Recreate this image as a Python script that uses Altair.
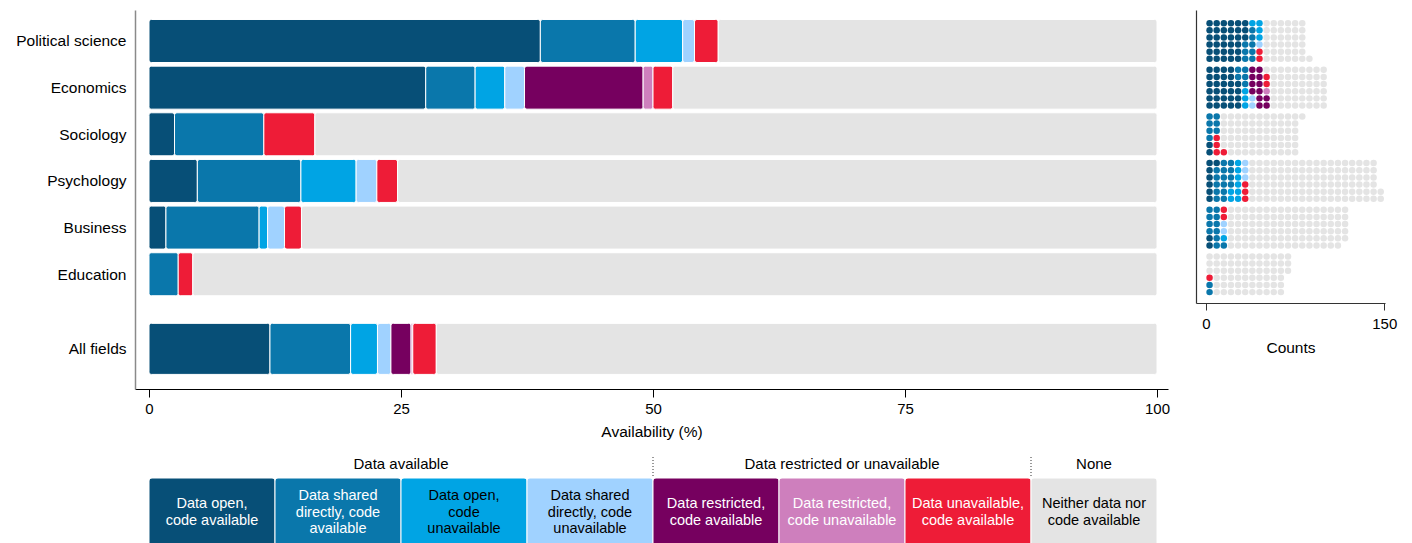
import altair as alt
import pandas as pd

# ---------------- data ----------------
fields = ["Political science", "Economics", "Sociology", "Psychology", "Business", "Education"]
all_fields_label = "All fields"

categories = [
    "Data open, code available",
    "Data shared directly, code available",
    "Data open, code unavailable",
    "Data shared directly, code unavailable",
    "Data restricted, code available",
    "Data restricted, code unavailable",
    "Data unavailable, code available",
    "Neither data nor code available",
]
colors = ["#074F77", "#0A77AB", "#00A4E4", "#A0D2FF", "#76005F", "#CE7FBD", "#EE1C37", "#E4E4E4"]

# counts per field, in category order
political_science = [33, 8, 4, 1, 0, 0, 2, 37]
economics = [28, 5, 3, 2, 12, 1, 2, 49]
sociology = [2, 7, 0, 0, 0, 0, 4, 66]
psychology = [7, 15, 8, 3, 0, 0, 3, 110]
business = [2, 11, 1, 2, 0, 0, 2, 101]
education = [0, 2, 0, 0, 0, 0, 1, 66]
field_counts = [political_science, economics, sociology, psychology, business, education]

legend_labels = [
    "Data open,\ncode available",
    "Data shared\ndirectly, code\navailable",
    "Data open,\ncode\nunavailable",
    "Data shared\ndirectly, code\nunavailable",
    "Data restricted,\ncode available",
    "Data restricted,\ncode unavailable",
    "Data unavailable,\ncode available",
    "Neither data nor\ncode available",
]
legend_dark_text = [False, False, True, True, False, False, False, True]
group_names = ["Data available", "Data restricted or unavailable", "None"]
group_first = [0, 4, 7]
group_last = [4, 7, 8]

# ---------------- tables ----------------
rows = []
for fi, (f, cnts) in enumerate(zip(fields, field_counts)):
    for ci, (c, n) in enumerate(zip(categories, cnts)):
        rows.append(dict(field=f, fi=fi, category=c, ci=ci, count=n))
all_totals = [sum(col) for col in zip(*field_counts)]
for ci, (c, n) in enumerate(zip(categories, all_totals)):
    rows.append(dict(field=all_fields_label, fi=len(fields), category=c, ci=ci, count=n))
bars_df = pd.DataFrame(rows)

field_df = bars_df[bars_df.fi < len(fields)]
units_df = field_df.loc[field_df.index.repeat(field_df["count"])].reset_index(drop=True)

legend_df = pd.DataFrame(dict(category=categories, ci=list(range(len(categories))),
                              label=legend_labels, dark=legend_dark_text,
                              nlines=[lab.count("\n") + 1 for lab in legend_labels]))
groups_df = pd.DataFrame(dict(name=group_names, first=group_first, last=group_last))

# ---------------- layout constants ----------------
NF = len(fields)
ALL_POS = 6.6
SEG = 100 / len(categories)
FONT = "Liberation Sans"
LINE_H = 16.5

x_scale = alt.Scale(domain=[-1.389, 101.091], nice=False, zero=False)
y_scale = alt.Scale(domain=[-0.6645, 7.46], reverse=True, nice=False, zero=False)
color_scale = alt.Scale(domain=categories, range=colors)

x_axis = alt.Axis(values=[0, 25, 50, 75, 100], title="Availability (%)",
                  domainColor="black", domainWidth=1, tickColor="black",
                  tickSize=8, labelPadding=4, titlePadding=8, labelFlush=False,
                  labelFontSize=15, titleFontSize=15.5)

label_array = "[" + ",".join("'" + f + "'" for f in fields) + "]"
y_label_expr = f"datum.value > {NF} ? '{all_fields_label}' : {label_array}[datum.value]"

# ---------------- left: stacked bars ----------------
bars = (
    alt.Chart(bars_df)
    .transform_joinaggregate(total="sum(count)", groupby=["field"])
    .transform_filter("datum.count > 0")
    .transform_stack(stack="count", groupby=["field"], as_=["s0", "s1"],
                     sort=[alt.SortField("ci", order="ascending")])
    .transform_calculate(
        p0="100 * datum.s0 / datum.total",
        p1="100 * datum.s1 / datum.total",
        pos=f"datum.fi == {NF} ? {ALL_POS} : datum.fi",
        half=f"datum.fi == {NF} ? 0.547 : 0.461",
    )
    .transform_calculate(b0="datum.pos - datum.half", b1="datum.pos + datum.half")
    .mark_rect(cornerRadius=2.5, stroke="white", strokeWidth=1)
    .encode(
        x=alt.X("p0:Q", scale=x_scale, axis=x_axis),
        x2="p1:Q",
        y=alt.Y("b0:Q", scale=y_scale,
                axis=alt.Axis(values=[0, 1, 2, 3, 4, 5, ALL_POS], labelExpr=y_label_expr,
                              title=None, ticks=False, domainColor="#8a8a8a", domainWidth=1.5,
                              labelPadding=9, labelFontSize=15.5,
                              minExtent=127, maxExtent=127)),
        y2="b1:Q",
        color=alt.Color("category:N", scale=color_scale, legend=None),
    )
)

# ---------------- legend (drawn under the left panel) ----------------
leg_base = alt.Chart(legend_df).transform_calculate(
    lx0=f"datum.ci * {SEG}", lx1=f"(datum.ci + 1) * {SEG}", lxc=f"(datum.ci + 0.5) * {SEG}"
)
leg_boxes = leg_base.mark_rect(cornerRadiusTopLeft=3, cornerRadiusTopRight=3,
                               stroke="white", strokeWidth=1).encode(
    x=alt.X("lx0:Q", scale=x_scale, axis=x_axis),
    x2="lx1:Q",
    y=alt.value(468),
    y2=alt.value(540),
    color=alt.Color("category:N", scale=color_scale, legend=None),
)

leg_texts = []
for n in (2, 3):
    leg_texts.append(
        leg_base.transform_filter(f"datum.nlines == {n}").mark_text(
            lineBreak="\n", fontSize=14.5, lineHeight=LINE_H, align="center", baseline="middle",
            font=FONT
        ).encode(
            x=alt.X("lxc:Q", scale=x_scale, axis=x_axis),
            y=alt.value(502.5 - (n - 1) * LINE_H / 2),
            text="label:N",
            color=alt.condition("datum.dark", alt.value("black"), alt.value("white")),
        )
    )

grp_base = alt.Chart(groups_df).transform_calculate(
    gx=f"(datum.first + datum.last) / 2 * {SEG}", sx=f"datum.first * {SEG}"
)
grp_text = grp_base.mark_text(fontSize=15, align="center", baseline="middle",
                              color="black", font=FONT).encode(
    x=alt.X("gx:Q", scale=x_scale, axis=x_axis), y=alt.value(454), text="name:N"
)
grp_sep = grp_base.transform_filter("datum.first > 0").mark_rule(
    color="#333333", strokeWidth=1, strokeDash=[1, 2]
).encode(x=alt.X("sx:Q", scale=x_scale, axis=x_axis), y=alt.value(447), y2=alt.value(468))

left = alt.layer(bars, leg_boxes, *leg_texts, grp_text, grp_sep).properties(
    width=1033, height=379
)

# ---------------- right: unit (dot) chart ----------------
dots = (
    alt.Chart(units_df)
    .transform_window(k="row_number()", groupby=["field"], sort=[alt.SortField("ci")])
    .transform_calculate(col="floor((datum.k - 1) / 6)", j="(datum.k - 1) % 6")
    .transform_calculate(r="datum.col % 2 == 0 ? datum.j : 5 - datum.j")
    .transform_calculate(cx="datum.col * 6 + 3", cy="datum.fi + (2.5 - datum.r) * 0.1531")
    .mark_circle(size=42, opacity=1)
    .encode(
        x=alt.X("cx:Q", scale=alt.Scale(domain=[-8.41, 150.6], nice=False, zero=False),
                axis=alt.Axis(values=[0, 150], title="Counts", domainColor="#333333",
                              tickColor="#333333", tickSize=7, labelPadding=6, titlePadding=9,
                              labelFlush=False, labelFontSize=15, titleFontSize=15.5)),
        y=alt.Y("cy:Q", scale=alt.Scale(domain=[-0.6645, 5.616], reverse=True, nice=False, zero=False),
                axis=alt.Axis(labels=False, ticks=False, title=None, domainColor="#333333",
                              domainWidth=1.2, minExtent=0, maxExtent=0)),
        color=alt.Color("category:N", scale=color_scale, legend=None),
    )
    .properties(width=189, height=293)
)

chart = (
    alt.hconcat(left, dots, spacing=26)
    .configure(padding={"left": 0, "top": 2, "right": 5, "bottom": 0}, font=FONT)
    .configure_view(stroke=None)
    .configure_axis(grid=False, labelColor="black", titleColor="black", titleFontWeight="normal",
                    labelFont=FONT, titleFont=FONT)
)

chart.save("out.html", embed_options={"renderer": "svg", "actions": False})
